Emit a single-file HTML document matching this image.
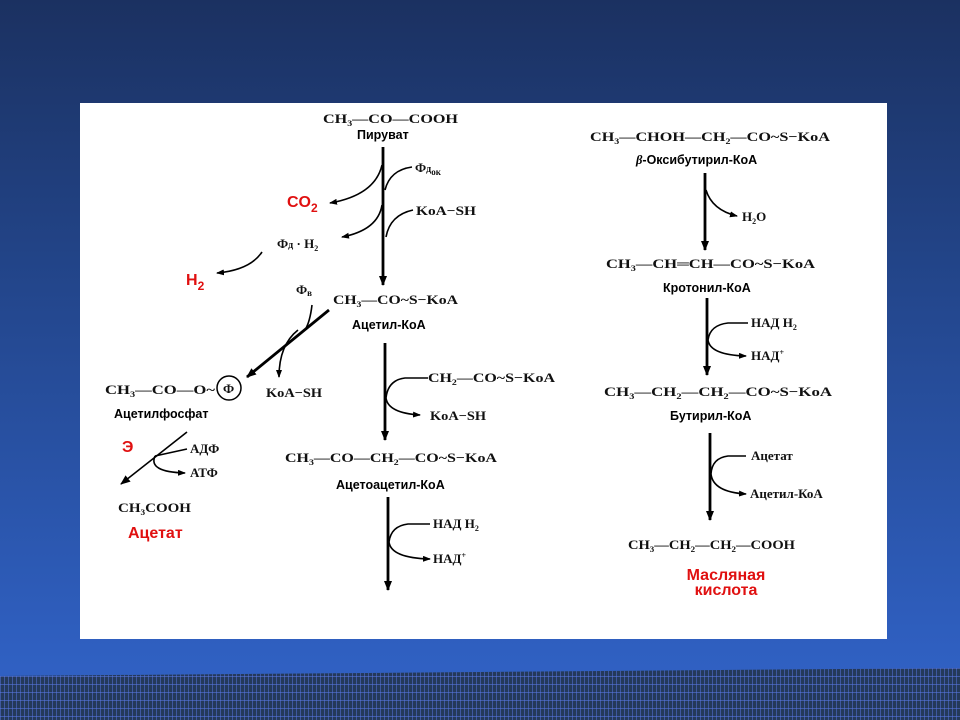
<!DOCTYPE html>
<html><head><meta charset="utf-8"><style>
html,body{margin:0;padding:0}
body{width:960px;height:720px;overflow:hidden;background:linear-gradient(#1b3161 0%,#23468c 40%,#2f5fc0 90%,#3163c6 100%);position:relative}
#grid{position:absolute;left:0;top:668px;width:960px;height:52px;background-color:#24395a;
background-image:linear-gradient(90deg,rgba(90,120,230,.5) 1px,transparent 1px),linear-gradient(rgba(90,120,230,.55) 1px,transparent 1px);
background-size:4px 100%,100% 8px;clip-path:polygon(0 8px,960px 0,960px 52px,0 52px)}
svg{position:absolute;left:0;top:0}
.f{font-family:"Liberation Serif",serif;font-size:13px;font-weight:bold;fill:#111}
.s{font-family:"Liberation Sans","DejaVu Sans",sans-serif;font-size:12.5px;font-weight:bold;fill:#000}
.r{font-family:"Liberation Sans",sans-serif;font-size:16px;font-weight:bold;fill:#e01010}
.p{fill:none;stroke:#000;stroke-width:1.6}
.t{fill:none;stroke:#000;stroke-width:2.8}
</style></head><body>
<div id="grid"></div>
<svg width="960" height="720" viewBox="0 0 960 720">
<defs><marker id="a" markerWidth="8" markerHeight="6" refX="7" refY="3" orient="auto" markerUnits="userSpaceOnUse"><path d="M0,0L8,3L0,6z" fill="#000"/></marker>
<marker id="b" markerWidth="10" markerHeight="8" refX="9" refY="4" orient="auto" markerUnits="userSpaceOnUse"><path d="M0,0L10,4L0,8z" fill="#000"/></marker></defs>
<rect x="80" y="103" width="807" height="536" fill="#fff"/>

<text class="f" x="323" y="123" textLength="135" lengthAdjust="spacingAndGlyphs">CH<tspan font-size="8" dy="3">3</tspan><tspan dy="-3">—CO—COOH</tspan></text>
<text class="s" x="357" y="139">Пируват</text>
<line class="t" x1="383" y1="147" x2="383" y2="285" marker-end="url(#b)"/>
<path class="p" d="M382,165 Q375,195 330,203" marker-end="url(#a)"/>
<text class="r" x="287" y="207">CO<tspan font-size="12" dy="5">2</tspan></text>
<path class="p" d="M412,167 Q390,170 385,190"/>
<text class="f" x="415" y="172">Ф<tspan font-size="10">д</tspan><tspan font-size="9" dy="3">ок</tspan></text>
<path class="p" d="M382,205 Q378,230 342,237" marker-end="url(#a)"/>
<text class="f" x="277" y="248">Ф<tspan font-size="10">д</tspan> · H<tspan font-size="8" dy="3">2</tspan></text>
<path class="p" d="M413,210 Q390,215 386,237"/>
<text class="f" x="416" y="215" textLength="60" lengthAdjust="spacingAndGlyphs">KoA−SH</text>
<path class="p" d="M262,252 Q250,270 217,273" marker-end="url(#a)"/>
<text class="r" x="186" y="285">H<tspan font-size="12" dy="5">2</tspan></text>

<text class="f" x="296" y="294">Ф<tspan font-size="9" dy="2">в</tspan></text>
<text class="f" x="333" y="304" textLength="125" lengthAdjust="spacingAndGlyphs">CH<tspan font-size="8" dy="3">3</tspan><tspan dy="-3">—CO~S−KoA</tspan></text>
<text class="s" x="352" y="329">Ацетил-КоА</text>
<line class="t" x1="329" y1="310" x2="247" y2="377" marker-end="url(#b)"/>
<path class="p" d="M312,305 Q310,322 305,330"/>
<path class="p" d="M298,330 Q279,345 279,377" marker-end="url(#a)"/>
<text class="f" x="266" y="397" textLength="56" lengthAdjust="spacingAndGlyphs">KoA−SH</text>
<text class="f" x="105" y="394" textLength="110" lengthAdjust="spacingAndGlyphs">CH<tspan font-size="8" dy="3">3</tspan><tspan dy="-3">—CO—O~</tspan></text>
<circle cx="229" cy="388" r="12" fill="none" stroke="#000" stroke-width="1.5"/>
<text class="f" x="223" y="393" font-size="12">Ф</text>
<text class="s" x="114" y="418">Ацетилфосфат</text>
<text class="r" x="122" y="452">Э</text>
<line class="p" x1="187" y1="432" x2="121" y2="484" stroke-width="2.4" marker-end="url(#b)"/>
<line class="p" x1="155" y1="456" x2="187" y2="449"/>
<text class="f" x="190" y="453">АДФ</text>
<path class="p" d="M155,456 Q148,472 185,473" marker-end="url(#a)"/>
<text class="f" x="190" y="477">АТФ</text>
<text class="f" x="118" y="512" textLength="73" lengthAdjust="spacingAndGlyphs">CH<tspan font-size="8" dy="3">3</tspan><tspan dy="-3">COOH</tspan></text>
<text class="r" x="128" y="538">Ацетат</text>

<line class="t" x1="385" y1="343" x2="385" y2="440" marker-end="url(#b)"/>
<path class="p" d="M428,378 L405,378 Q388,380 386,398 Q388,413 420,415" marker-end="url(#a)"/>
<text class="f" x="428" y="382" textLength="127" lengthAdjust="spacingAndGlyphs">CH<tspan font-size="8" dy="3">2</tspan><tspan dy="-3">—CO~S−KoA</tspan></text>
<text class="f" x="430" y="420" textLength="56" lengthAdjust="spacingAndGlyphs">KoA−SH</text>
<text class="f" x="285" y="462" textLength="212" lengthAdjust="spacingAndGlyphs">CH<tspan font-size="8" dy="3">3</tspan><tspan dy="-3">—CO—CH</tspan><tspan font-size="8" dy="3">2</tspan><tspan dy="-3">—CO~S−KoA</tspan></text>
<text class="s" x="336" y="489">Ацетоацетил-КоА</text>
<line class="t" x1="388" y1="497" x2="388" y2="590" marker-end="url(#b)"/>
<path class="p" d="M430,524 L408,524 Q391,526 389,542 Q391,558 430,559" marker-end="url(#a)"/>
<text class="f" x="433" y="528">НАД H<tspan font-size="8" dy="3">2</tspan></text>
<text class="f" x="433" y="563">НАД<tspan font-size="8" dy="-5">+</tspan></text>

<text class="f" x="590" y="141" textLength="240" lengthAdjust="spacingAndGlyphs">CH<tspan font-size="8" dy="3">3</tspan><tspan dy="-3">—CHOH—CH</tspan><tspan font-size="8" dy="3">2</tspan><tspan dy="-3">—CO~S−KoA</tspan></text>
<text class="s" x="636" y="164"><tspan font-family="Liberation Serif" font-style="italic">β</tspan>-Оксибутирил-КоА</text>
<line class="t" x1="705" y1="173" x2="705" y2="250" marker-end="url(#b)"/>
<path class="p" d="M706,190 Q712,210 737,216" marker-end="url(#a)"/>
<text class="f" x="742" y="221">H<tspan font-size="8" dy="3">2</tspan><tspan dy="-3">O</tspan></text>
<text class="f" x="606" y="268" textLength="209" lengthAdjust="spacingAndGlyphs">CH<tspan font-size="8" dy="3">3</tspan><tspan dy="-3">—CH═CH—CO~S−KoA</tspan></text>
<text class="s" x="663" y="292">Кротонил-КоА</text>
<line class="t" x1="707" y1="298" x2="707" y2="375" marker-end="url(#b)"/>
<path class="p" d="M748,323 L728,323 Q710,325 708,340 Q710,355 746,356" marker-end="url(#a)"/>
<text class="f" x="751" y="327">НАД H<tspan font-size="8" dy="3">2</tspan></text>
<text class="f" x="751" y="360">НАД<tspan font-size="8" dy="-5">+</tspan></text>
<text class="f" x="604" y="396" textLength="228" lengthAdjust="spacingAndGlyphs">CH<tspan font-size="8" dy="3">3</tspan><tspan dy="-3">—CH</tspan><tspan font-size="8" dy="3">2</tspan><tspan dy="-3">—CH</tspan><tspan font-size="8" dy="3">2</tspan><tspan dy="-3">—CO~S−KoA</tspan></text>
<text class="s" x="670" y="420">Бутирил-КоА</text>
<line class="t" x1="710" y1="433" x2="710" y2="520" marker-end="url(#b)"/>
<path class="p" d="M746,456 L728,456 Q712,458 711,474 Q713,492 746,494" marker-end="url(#a)"/>
<text class="f" x="751" y="460" font-weight="normal">Ацетат</text>
<text class="f" x="750" y="498" font-weight="normal">Ацетил-КоА</text>
<text class="f" x="628" y="549" textLength="167" lengthAdjust="spacingAndGlyphs">CH<tspan font-size="8" dy="3">3</tspan><tspan dy="-3">—CH</tspan><tspan font-size="8" dy="3">2</tspan><tspan dy="-3">—CH</tspan><tspan font-size="8" dy="3">2</tspan><tspan dy="-3">—COOH</tspan></text>
<text class="r" x="726" y="580" text-anchor="middle">Масляная</text>
<text class="r" x="726" y="595" text-anchor="middle">кислота</text>
</svg>
</body></html>
